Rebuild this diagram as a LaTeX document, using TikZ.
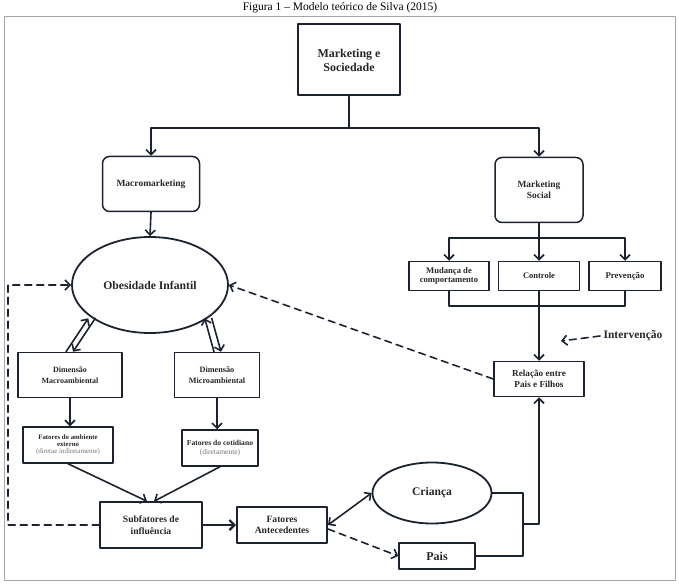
\documentclass[tikz,border=0pt]{standalone}
\usepackage{fontspec}
\setmainfont{Liberation Serif}
\usetikzlibrary{arrows.meta,shapes.geometric,calc}
\definecolor{linha}{RGB}{28,34,48}
\definecolor{texto}{RGB}{38,38,42}
\newcommand\tam[1]{\bfseries\fontsize{#1}{#1}\selectfont}

\begin{document}
\begin{tikzpicture}[x=1pt,y=-1pt,line join=round,line cap=round,>={Straight Barb[length=5pt,width=10pt]},text=texto]
\tikzset{caixa/.style={draw=linha,line width=1.5pt,align=center,inner sep=1pt},
  elipse/.style={caixa,ellipse,line width=1.8pt},
  arr/.style={draw=linha,line width=1.6pt,->},
  liga/.style={draw=linha,line width=1.6pt},
  tracejado/.style={draw=linha,line width=1.6pt,dash pattern=on 7pt off 5pt,->}}
\useasboundingbox (0,0) rectangle (679,585);
\draw[black!35,line width=0.8pt] (4,16) rectangle (675,580);
\node[text=black,font=\fontsize{11.5}{12}\selectfont] (titulo) at (340,8) {Figura 1 – Modelo teórico de Silva (2015)};

\node[caixa,line width=2pt,minimum width=102pt,minimum height=71pt,font=\tam{12}] (soc) at (349,60) {Marketing e\\[2pt] Sociedade};
\node[caixa,rounded corners=7pt,minimum width=97pt,minimum height=55pt,font=\tam{9.5}] (macro) at (151,184) {Macromarketing};
\node[caixa,rounded corners=7pt,minimum width=88pt,minimum height=65pt,font=\tam{9.4}] (social) at (539,190) {Marketing\\[2pt] Social};
\node[elipse,minimum width=156pt,minimum height=96pt,font=\tam{11.7}] (obes) at (150,285) {Obesidade Infantil};

\node[caixa,minimum width=80pt,minimum height=29pt,font=\tam{8.6}] (mud) at (449,276) {Mudança de\\[1pt] comportamento};
\node[caixa,minimum width=81pt,minimum height=29pt,font=\tam{8.5}] (cont) at (539,276) {Controle};
\node[caixa,minimum width=72pt,minimum height=29pt,font=\tam{8.8}] (prev) at (625,276) {Prevenção};
\node[caixa,minimum width=90pt,minimum height=35pt,font=\tam{9.2}] (rel) at (539,379) {Relação entre\\[2pt] Pais e Filhos};
\node[font=\tam{11.5}] (interv) at (633,336) {Intervenção};
\coordinate (intfim) at (561,341);

\node[caixa,minimum width=104pt,minimum height=45pt,font=\tam{8}] (dmacro) at (70,375) {Dimensão\\[3pt] Macroambiental};
\node[caixa,minimum width=85pt,minimum height=45pt,font=\tam{8.2}] (dmicro) at (217,375) {Dimensão\\[3pt] Microambiental};
\node[caixa,minimum width=90pt,minimum height=36pt,font=\tam{6.8}] (fext) at (68,445) {Fatores do ambiente\\ externo\\ {\mdseries\fontsize{7}{7}\selectfont\color{black!55}(diretae indiretamente)}};
\node[caixa,minimum width=76pt,minimum height=36pt,font=\tam{7.6}] (fcot) at (220,448) {Fatores do cotidiano\\[1pt] {\mdseries\fontsize{7.5}{7.5}\selectfont\color{black!55}(diretamente)}};
\node[caixa,minimum width=102pt,minimum height=46pt,font=\tam{9.6}] (subf) at (151,525) {Subfatores de\\[2pt] influência};
\node[caixa,line width=2pt,minimum width=90pt,minimum height=36pt,font=\tam{9.6}] (fant) at (282,525) {Fatores\\[2pt] Antecedentes};
\node[elipse,minimum width=119pt,minimum height=61pt,font=\tam{11.6}] (crian) at (432,493) {Criança};
\node[caixa,minimum width=76pt,minimum height=26pt,font=\tam{12}] (pais) at (437,556) {Pais};

\coordinate (ramo) at (349,128);
\coordinate (ramo2) at (539,238);
\coordinate (junta) at (539,306);
\coordinate (jcp) at (523,524);
\coordinate (canto) at (8,525);

\draw[liga] (soc.south) -- (ramo);
\draw[arr] (ramo) -| (macro.north);
\draw[arr] (ramo) -| (social.north);
\draw[arr] (macro.south) -- (obes.north);
\draw[liga] (social.south) -- (ramo2);
\draw[arr] (ramo2) -| (mud.north);
\draw[arr] (ramo2) -- (cont.north);
\draw[arr] (ramo2) -| (prev.north);
\draw[liga] (mud.south) |- (junta) -| (prev.south);
\draw[arr] (cont.south) -- (rel.north);
\draw[tracejado] (interv.west) -- (intfim);
\draw[tracejado] (rel.west) -- (obes.east);

\draw[arr] ([xshift=-4pt]dmacro.north) -- ([xshift=-4pt]obes.210);
\draw[arr] ([xshift=3pt]obes.210) -- ([xshift=3pt]dmacro.north);
\draw[arr] ([xshift=-3pt]dmicro.north) -- ([xshift=-3pt]obes.330);
\draw[arr] ([xshift=4pt]obes.330) -- ([xshift=4pt]dmicro.north);

\draw[arr] (dmacro.south) -- (dmacro.south |- fext.north);
\draw[arr] (dmicro.south) -- (dmicro.south |- fcot.north);
\draw[arr] (fext.south) -- ([xshift=-4pt]subf.north);
\draw[arr] (fcot.south) -- ([xshift=3pt]subf.north);
\draw[tracejado] (subf.west) -- (canto) |- (obes.west);
\draw[arr,line width=2.2pt] (subf.east) -- (fant.west);
\draw[arr,<->] (fant.east) -- (crian.west);
\draw[tracejado] ([yshift=-4pt]fant.east) -- (pais.west);
\draw[liga] (crian.east) -| (jcp) |- (pais.east);
\draw[arr] (jcp) -| (rel.south);
\end{tikzpicture}
\end{document}
